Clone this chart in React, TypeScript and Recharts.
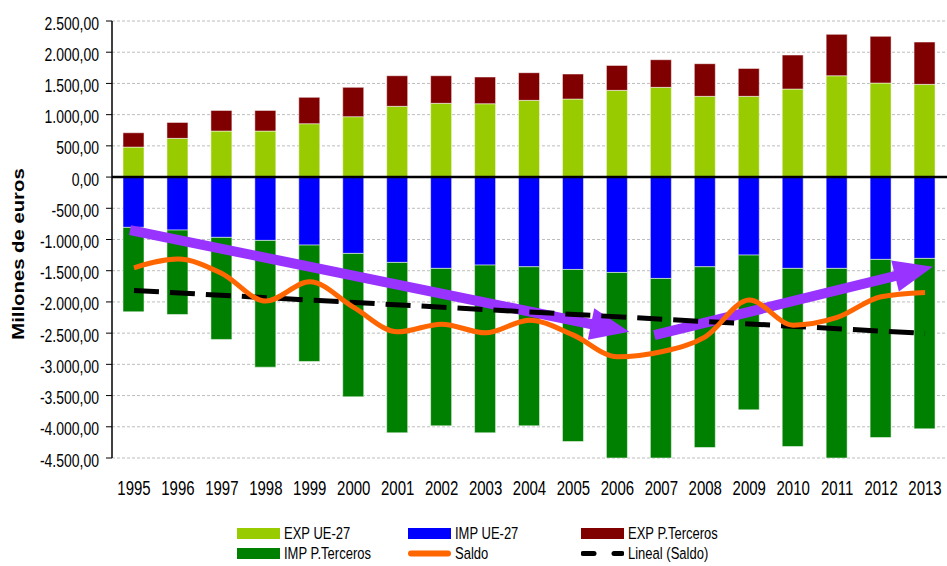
import React from 'react';
import {
  ComposedChart,
  Bar,
  Line,
  XAxis,
  YAxis,
  CartesianGrid,
  ReferenceLine,
} from 'recharts';

const years = ['1995', '1996', '1997', '1998', '1999', '2000', '2001', '2002', '2003', '2004', '2005', '2006', '2007', '2008', '2009', '2010', '2011', '2012', '2013'];
const expUE = [480, 620, 737, 737, 855, 967, 1133, 1181, 1175, 1229, 1250, 1389, 1437, 1293, 1293, 1410, 1623, 1506, 1485];
const expTerceros = [230, 256, 331, 331, 422, 470, 490, 442, 428, 443, 401, 400, 443, 523, 448, 545, 663, 748, 678];
const impUE = [-806, -849, -966, -1015, -1090, -1223, -1367, -1463, -1410, -1437, -1480, -1528, -1624, -1437, -1250, -1463, -1463, -1319, -1303];
const impTerceros = [-1352, -1352, -1635, -2030, -1864, -2297, -2730, -2522, -2687, -2548, -2756, -3141, -3055, -2895, -2479, -2853, -3072, -2853, -2730];
const saldo = [-1453, -1314, -1544, -1987, -1677, -2088, -2479, -2356, -2495, -2292, -2532, -2880, -2799, -2559, -1971, -2372, -2249, -1917, -1848];

// Lineal (Saldo): endpoints of the trend line, [year, value]
const trendSaldo: [number, number][] = [[1995, -1817], [2013, -2505]];
// purple annotation arrows, [year position, value]
const arrowDown: [number, number][] = [[1994.91, -849], [2006.27, -2479]];
const arrowUp: [number, number][] = [[2006.84, -2532], [2013.18, -1437]];

const yTicks = [-4500, -4000, -3500, -3000, -2500, -2000, -1500, -1000, -500, 0, 500, 1000, 1500, 2000, 2500];

const COLORS = {
  expUE: '#99CC00',
  impUE: '#0000FF',
  expTer: '#800000',
  impTer: '#008000',
  saldo: '#FF6600',
  arrow: '#9933FF',
};

const FONT = '"Liberation Sans", Arial, sans-serif';

const data = years.map((y, i) => ({
  year: y,
  yearNum: Number(y),
  expUE: expUE[i],
  impUE: impUE[i],
  expTer: expTerceros[i],
  impTer: impTerceros[i],
  saldo: saldo[i],
}));

const fmt = (v: number) => {
  const s = Math.abs(v).toFixed(0).replace(/\B(?=(\d{3})+(?!\d))/g, '.');
  return (v < 0 ? '-' : '') + s + ',00';
};

const XTick = ({ x, y, payload }: any) => (
  <text
    transform={`translate(${x},${y + 35}) scale(1,1.3)`}
    textAnchor="middle"
    fontSize={15}
    fontFamily={FONT}
    fill="#000"
  >
    {payload.value}
  </text>
);

const YTick = ({ x, y, payload }: any) => (
  <text
    transform={`translate(${x},${y + 8.5}) scale(1,1.3)`}
    textAnchor="end"
    fontSize={14}
    fontFamily={FONT}
    fill="#000"
  >
    {fmt(payload.value)}
  </text>
);

// thick line with a triangular head at the end point
const ArrowShape = (props: any) => {
  const { x1, y1, x2, y2 } = props;
  const dx = x2 - x1;
  const dy = y2 - y1;
  const len = Math.hypot(dx, dy) || 1;
  const ux = dx / len;
  const uy = dy / len;
  const head = 35;
  const half = 16;
  const bx = x2 - ux * head;
  const by = y2 - uy * head;
  return (
    <g>
      <line x1={x1} y1={y1} x2={bx + ux * 2} y2={by + uy * 2} stroke={COLORS.arrow} strokeWidth={10} />
      <polygon
        points={`${x2},${y2} ${bx - uy * half - ux * 4},${by + ux * half - uy * 4} ${bx + uy * half - ux * 4},${by - ux * half - uy * 4}`}
        fill={COLORS.arrow}
      />
    </g>
  );
};

const legendItems = [
  { name: 'EXP UE-27', color: COLORS.expUE, kind: 'box' },
  { name: 'IMP UE-27', color: COLORS.impUE, kind: 'box' },
  { name: 'EXP P.Terceros', color: COLORS.expTer, kind: 'box' },
  { name: 'IMP P.Terceros', color: COLORS.impTer, kind: 'box' },
  { name: 'Saldo', color: COLORS.saldo, kind: 'line' },
  { name: 'Lineal (Saldo)', color: '#000', kind: 'dash' },
];

const Swatch = ({ kind, color }: { kind: string; color: string }) => (
  <svg width={43} height={17} style={{ display: 'block' }}>
    {kind === 'box' && <rect x={0} y={3} width={43} height={11} fill={color} />}
    {kind === 'line' && (
      <line x1={3} y1={8.5} x2={40} y2={8.5} stroke={color} strokeWidth={6} strokeLinecap="round" />
    )}
    {kind === 'dash' && (
      <g stroke={color} strokeWidth={5} strokeLinecap="round">
        <line x1={2} y1={8.5} x2={13} y2={8.5} />
        <line x1={33} y1={8.5} x2={41} y2={8.5} />
      </g>
    )}
  </svg>
);

export default function App() {
  return (
    <div style={{ position: 'absolute', left: 0, top: 0, width: 947, height: 566, background: '#fff', fontFamily: FONT, overflow: 'hidden' }}>
      <ComposedChart
        width={947}
        height={566}
        data={data}
        stackOffset="sign"
        margin={{ top: 21, right: 0, bottom: 68, left: 0 }}
      >
        <CartesianGrid vertical={false} stroke="#bdbdbd" strokeDasharray="3 2" />
        <XAxis dataKey="year" height={40} axisLine={false} tickLine={false} tickSize={0} tick={<XTick />} interval={0} />
        <XAxis xAxisId="n" dataKey="yearNum" type="number" domain={[1994.5, 2013.5]} hide />
        <YAxis
          width={112}
          domain={[-4500, 2500]}
          ticks={yTicks}
          allowDataOverflow
          interval={0}
          axisLine={{ stroke: '#000', strokeWidth: 1.5 }}
          tickLine={{ stroke: '#000' }}
          tickSize={6}
          tickMargin={7}
          tick={<YTick />}
          label={{
            content: () => (
              <text
                transform="translate(24,254) rotate(-90) scale(1.27,1)"
                textAnchor="middle"
                fontSize={16}
                fontWeight="bold"
                fontFamily={FONT}
                fill="#000"
              >
                Millones de euros
              </text>
            ),
          }}
        />
        <Bar dataKey="expUE" name="EXP UE-27" stackId="s" fill={COLORS.expUE} stroke="#ffffff" strokeOpacity={0.5} barSize={21} isAnimationActive={false} />
        <Bar dataKey="impUE" name="IMP UE-27" stackId="s" fill={COLORS.impUE} stroke="#ffffff" strokeOpacity={0.5} barSize={21} isAnimationActive={false} />
        <Bar dataKey="expTer" name="EXP P.Terceros" stackId="s" fill={COLORS.expTer} stroke="#ffffff" strokeOpacity={0.5} barSize={21} isAnimationActive={false} />
        <Bar dataKey="impTer" name="IMP P.Terceros" stackId="s" fill={COLORS.impTer} stroke="#ffffff" strokeOpacity={0.5} barSize={21} isAnimationActive={false} />
        <ReferenceLine y={0} stroke="#000" strokeWidth={2.5} />
        <ReferenceLine
          xAxisId="n"
          segment={arrowDown.map(([x, y]) => ({ x, y }))}
          shape={<ArrowShape />}
          ifOverflow="visible"
        />
        <ReferenceLine
          xAxisId="n"
          segment={arrowUp.map(([x, y]) => ({ x, y }))}
          shape={<ArrowShape />}
          ifOverflow="visible"
        />
        <ReferenceLine
          xAxisId="n"
          segment={trendSaldo.map(([x, y]) => ({ x, y }))}
          stroke="#000"
          strokeWidth={5}
          strokeDasharray="25 11"
          ifOverflow="visible"
        />
        <Line dataKey="saldo" name="Saldo" type="monotone" stroke={COLORS.saldo} strokeWidth={5} dot={false} isAnimationActive={false} />
      </ComposedChart>
      <div
        style={{
          position: 'absolute',
          left: 237,
          top: 525,
          display: 'grid',
          gridTemplateColumns: '171px 173px 200px',
          rowGap: 3,
        }}
      >
        {legendItems.map((it) => (
          <div key={it.name} style={{ display: 'flex', alignItems: 'center', height: 17 }}>
            <Swatch kind={it.kind} color={it.color} />
            <span style={{ marginLeft: 4, fontSize: 13, lineHeight: '17px', display: 'inline-block', transform: 'scaleY(1.3)', whiteSpace: 'nowrap' }}>
              {it.name}
            </span>
          </div>
        ))}
      </div>
    </div>
  );
}
